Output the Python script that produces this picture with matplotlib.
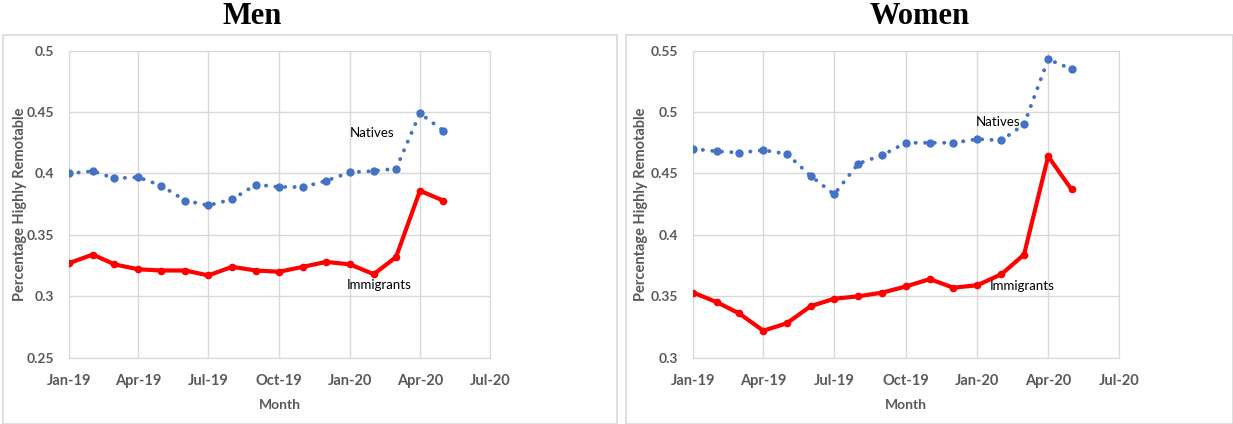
import datetime as dt

import matplotlib
matplotlib.use("Agg")
import matplotlib.pyplot as plt
import matplotlib.dates as mdates
from matplotlib.patches import Rectangle

# monthly observations, Jan 2019 - May 2020
months = [dt.date(2019, m, 1) for m in range(1, 13)] + [dt.date(2020, m, 1) for m in range(1, 6)]

men_natives = [0.400, 0.402, 0.396, 0.397, 0.390, 0.378, 0.374, 0.379, 0.391,
               0.389, 0.389, 0.394, 0.401, 0.402, 0.404, 0.449, 0.435]
men_immigrants = [0.327, 0.334, 0.326, 0.322, 0.321, 0.321, 0.317, 0.324, 0.321,
                  0.320, 0.324, 0.328, 0.326, 0.318, 0.332, 0.386, 0.378]

women_natives = [0.470, 0.468, 0.467, 0.469, 0.466, 0.448, 0.433, 0.458, 0.465,
                 0.475, 0.475, 0.475, 0.478, 0.477, 0.490, 0.543, 0.535]
women_immigrants = [0.353, 0.345, 0.336, 0.322, 0.328, 0.342, 0.348, 0.350, 0.353,
                    0.358, 0.364, 0.357, 0.359, 0.368, 0.384, 0.464, 0.437]

men_yticks = [0.25, 0.3, 0.35, 0.4, 0.45, 0.5]
women_yticks = [0.3, 0.35, 0.4, 0.45, 0.5, 0.55]

BLUE = "#4472C4"
RED = "#FF0000"
GRID = "#D9D9D9"
TXT = "#595959"

plt.rcParams["font.family"] = ["Lato", "DejaVu Sans"]

fig = plt.figure(figsize=(12.33, 4.24), dpi=100)
W, H = 1233, 424

# chart-area frames
for x0, x1 in [(2.5, 617), (625.5, 1232.5)]:
    fig.patches.append(Rectangle((x0 / W, 0), (x1 - x0) / W, 1 - 35 / H,
                                 transform=fig.transFigure, fill=False,
                                 edgecolor=GRID, linewidth=1.2))


def panel(left, right, title, title_x, nat, imm, yticks, nat_lbl, imm_lbl, ylab_x):
    ax = fig.add_axes([left / W, 1 - 357.7 / H, (right - left) / W, (357.7 - 50.7) / H])
    ax.plot(months, nat, linestyle=(0, (0.05, 2.4)), dash_capstyle="round",
            solid_capstyle="round", color=BLUE, linewidth=2.8, zorder=3)
    ax.plot(months, nat, linestyle="none", color=BLUE, marker="o",
            markersize=5, zorder=4)
    ax.plot(months, imm, color=RED, linewidth=3, marker="o", markersize=4.5, zorder=3)

    ax.set_xlim(dt.date(2019, 1, 1), dt.date(2020, 7, 1))
    ax.set_ylim(yticks[0], yticks[-1])
    ax.set_yticks(yticks)
    ax.set_yticklabels([f"{v:g}" for v in yticks])
    ax.xaxis.set_major_locator(mdates.MonthLocator(bymonth=[1, 4, 7, 10]))
    ax.xaxis.set_major_formatter(mdates.DateFormatter("%b-%y"))

    ax.grid(True, color=GRID, linewidth=1)
    ax.set_axisbelow(True)
    for s in ax.spines.values():
        s.set_color(GRID)
    ax.tick_params(length=0, labelsize=10, labelcolor=TXT, pad=11)
    for lab in ax.get_xticklabels() + ax.get_yticklabels():
        lab.set_fontweight("bold")
    ax.tick_params(axis="x", labelsize=10.5, pad=12)

    ax.set_xlabel("Month", fontsize=10, fontweight="bold", color=TXT, labelpad=8)
    ax.set_ylabel("Percentage Highly Remotable", fontsize=10.5, fontweight="bold", color=TXT)
    ax.yaxis.set_label_coords((ylab_x - left) / (right - left), 0.5)

    ax.text(mdates.date2num(nat_lbl[0]), nat_lbl[1], "Natives", fontsize=9.5,
            ha="center", va="center")
    ax.text(mdates.date2num(imm_lbl[0]), imm_lbl[1], "Immigrants", fontsize=9.5,
            ha="center", va="center")

    fig.text(title_x / W, 1 - 17 / H, title, family="Liberation Serif",
             fontweight="bold", fontsize=22, ha="center", va="center")
    return ax


panel(69, 490, "Men", 252, men_natives, men_immigrants, men_yticks,
      (dt.date(2020, 1, 30), 0.433), (dt.date(2020, 2, 8), 0.309), 27)
panel(693.3, 1119, "Women", 920, women_natives, women_immigrants, women_yticks,
      (dt.date(2020, 1, 28), 0.492), (dt.date(2020, 2, 27), 0.358), 648)

fig.savefig("out.png", dpi=100)
